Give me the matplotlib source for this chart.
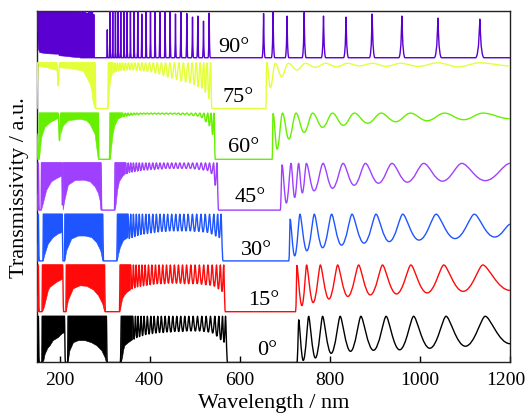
import numpy as np
import matplotlib
matplotlib.use('Agg')
import matplotlib.pyplot as plt
import matplotlib.transforms as mtransforms
from matplotlib.path import Path
from matplotlib.patches import PathPatch

nan = np.nan

angles = ['0°', '15°', '30°', '45°', '60°', '75°', '90°']
colors = ['black', '#ff0a0a', '#1f55ff', '#a040ff', '#66f000', '#e3ff3a', '#5a00d2']
tops = [0.91, 0.92, 0.92, 0.93, 0.91, 0.90, 0.92]
label_x = [662, 654, 637, 624, 609, 597, 586]
label_y = [0.25, 0.25, 0.23, 0.26, 0.25, 0.24, 0.23]

# --- 0 deg ---
a00_x = [150, 151.5, 153, 155, 161, 162, 211, 213, 218, 219, 304, 306, 335, 337, 362.6,
         573, 727, 731, 741, 753, 768, 784, 803, 823, 846, 869, 897, 925, 955, 986, 1022, 1058, 1101, 1145, 1200]
a00_y = [0.3, 0, 0.91, 0, 0, 0.91, 0.91, 0, 0, 0.91, 0.91, 0, 0, 0.91, 0.91,
         0, 0, 0.84, 0.04, 0.91, 0.09, 0.91, 0.18, 0.91, 0.22, 0.91, 0.24, 0.91, 0.25, 0.91, 0.28, 0.91, 0.32, 0.91, 0.37]
z00_pk = [368.5, 374.4, 381, 387.7, 395, 402.6, 410, 418, 426, 434.4, 442.6, 451.4, 460.3, 469, 478, 487,
          496.6, 506.3, 515.9, 525.5, 535.1, 544.8, 553.7, 561.8, 568.5]
z00_tr = [365.5, 371.5, 377.7, 384.3, 391.3, 398.8, 406.3, 414, 422, 430.2, 438.5, 447, 455.8, 464.6, 473.5,
          482.5, 491.8, 501.4, 511, 520.7, 530.3, 540, 549.2, 557.7, 565.1]
z00_tv = [.46, .49, .51, .53, .55, .56, .57, .58, .59, .59, .6, .6, .61, .61, .61, .62, .62, .62, .62, .61,
          .6, .58, .52, .45, .4]
f00_x = [161, 165, 168, 174, 179, 186, 197, 205, 211, nan, 219, 223, 231, 242, 257, 271, 283, 294, 301, 304,
         nan, 337, 340, 342, 345, 353, 362.6]
f00_lo = [0, .03, .16, .28, .33, .43, .49, .56, .59, nan, 0, .23, .39, .43, .43, .39, .33, .23, .1, 0,
          nan, 0, .1, .23, .33, .39, .45]

# --- 15 deg ---
a15_x = [150, 151.5, 153, 155, 161, 162, 207, 209, 214, 215, 300, 301.5, 333, 334.4, 358,
         568, 724, 727, 738, 748.5, 763, 779, 798, 817.4, 840, 864, 890, 917, 948, 980, 1016, 1053, 1096, 1139.6, 1200]
a15_y = [0.3, 0, 0.92, 0, 0, 0.92, 0.92, 0, 0, 0.92, 0.92, 0, 0, 0.92, 0.92,
         0, 0, 0.91, 0.12, 0.92, 0.18, 0.92, 0.25, 0.92, 0.3, 0.92, 0.33, 0.92, 0.35, 0.92, 0.37, 0.92, 0.4, 0.92, 0.42]
z15_pk = [364, 370, 376.5, 383, 390, 397.5, 405, 413, 421, 429, 437.5, 446, 455, 464, 473, 482, 491.5, 501,
          510.5, 520, 529.5, 539, 548.5, 557, 564.5]
z15_tr = [361, 367, 373.2, 379.7, 386.5, 393.7, 401.2, 409, 417, 425, 433.2, 441.7, 450.5, 459.5, 468.5, 477.5,
          486.7, 496.2, 505.7, 515.2, 524.7, 534.2, 543.7, 552.7, 560.7]
z15_tv = [.45, .47, .49, .5, .51, .52, .53, .54, .55, .55, .55, .56, .56, .56, .56, .55, .55, .55, .55, .54,
          .53, .52, .5, .45, .4]
f15_x = [162, 165, 168, 175, 179, 194, 207, nan, 215, 219.6, 230.7, 245.6, 260.4, 275.2, 286.3, 296, 300,
         nan, 334.4, 337, 340, 345, 350, 358]
f15_lo = [0, .05, .15, .41, .48, .58, .64, nan, 0, .22, .45, .51, .5, .43, .32, .15, 0,
          nan, 0, .12, .25, .33, .38, .43]

# --- 30 deg ---
a30_x = [150, 151.5, 153, 155, 163, 164, 206, 207.5, 211, 212, 296, 297.5, 327, 328.5, 352,
         563, 709, 712, 722, 733.7, 749, 765.6, 784, 804, 826, 849.3, 876, 902.6, 932, 961.9, 998, 1036, 1078,
         1121, 1166, 1200]
a30_y = [0.3, 0, 0.92, 0, 0, 0.92, 0.92, 0, 0, 0.92, 0.92, 0, 0, 0.92, 0.92,
         0, 0, 0.82, 0.1, 0.92, 0.2, 0.92, 0.26, 0.92, 0.31, 0.92, 0.35, 0.92, 0.38, 0.92, 0.41, 0.92, 0.44,
         0.92, 0.47, 0.72]
z30_pk = [358, 364, 370.5, 377, 384, 391.5, 399, 407, 415, 423, 431.5, 440, 449, 458, 467, 476, 485.5, 495,
          504.5, 514, 523.5, 533, 542.5, 551, 558.5]
z30_tr = [355, 361, 367.2, 373.7, 380.5, 387.7, 395.2, 403, 411, 419, 427.2, 435.7, 444.5, 453.5, 462.5, 471.5,
          480.7, 490.2, 499.7, 509.2, 518.7, 528.2, 537.7, 546.7, 554.7]
z30_tv = [.44, .46, .48, .5, .52, .53, .54, .55, .56, .57, .58, .58, .59, .59, .59, .59, .59, .59, .58, .58,
          .57, .56, .53, .49, .46]
f30_x = [164, 167.8, 175, 186, 197, 206, nan, 212, 216, 227, 242, 257, 271.5, 282.6, 291.5, 296,
         nan, 328.5, 331, 335, 342, 352]
f30_lo = [0, .13, .33, .46, .53, .56, nan, 0, .2, .43, .49, .49, .46, .36, .2, 0,
          nan, 0, .12, .26, .4, .46]

# --- 45 deg ---
a45_x = [150, 151.5, 153, 155, 159, 160, 205, 206.5, 208, 292, 293.7, 322, 323.3, 347,
         553, 690, 694, 703.5, 714, 722, 730.7, 739, 748, 765, 785, 806, 829.5, 854, 879, 908, 938, 972,
         1008.5, 1050, 1093, 1145, 1200]
a45_y = [0.3, 0, 0.93, 0, 0, 0.93, 0.93, 0.1, 0.93, 0.93, 0, 0, 0.93, 0.93,
         0, 0, 0.89, 0.14, 0.92, 0.25, 0.92, 0.34, 0.92, 0.38, 0.92, 0.43, 0.92, 0.49, 0.92, 0.53, 0.92, 0.55,
         0.92, 0.57, 0.92, 0.58, 0.92]
z45_pk = [352.5, 358, 364, 370.5, 377, 384, 391.5, 399, 407, 415, 423, 431.5, 440, 449, 458, 467, 476.5, 486,
          495.5, 505, 514.5, 524, 533, 542, 549.5]
z45_tr = [349.7, 355.2, 361, 367.2, 373.7, 380.5, 387.7, 395.2, 403, 411, 419, 427.2, 435.7, 444.5, 453.5,
          462.5, 471.7, 481.2, 490.7, 500.2, 509.7, 519.2, 528.5, 537.5, 545.7]
z45_tv = [.72, .74, .75, .76, .77, .78, .79, .79, .8, .8, .81, .81, .82, .82, .82, .82, .82, .82, .82, .81,
          .8, .79, .78, .72, .49]
f45_x = [160, 164, 171.5, 182.6, 193.7, 202.6, 205, nan, 208, 212, 219.6, 234.4, 253, 267.8, 278.9, 286.3,
         291.5, 292, nan, 323.3, 326, 329, 333, 340, 347]
f45_lo = [0, .13, .39, .56, .62, .66, .67, nan, 0, .2, .49, .58, .59, .56, .46, .33,
          .13, 0, nan, 0, .13, .39, .56, .66, .72]

# --- 60 deg ---
a60_x = [150, 152, 154, 155, 197, 200, 203, 286, 287.5, 311, 312.2, 340,
         545.6, 672, 674, 683, 695, 709, 725, 743, 762, 784, 806, 830, 854.4, 884, 914, 946, 979, 1016, 1054.4,
         1097, 1139.6, 1200]
a60_y = [0.5, 0, 0, 0.91, 0.91, 0.37, 0.91, 0.91, 0, 0, 0.91, 0.91,
         0, 0, 0.9, 0.2, 0.91, 0.4, 0.91, 0.53, 0.91, 0.63, 0.91, 0.67, 0.91, 0.71, 0.91, 0.74, 0.91, 0.76, 0.91,
         0.78, 0.91, 0.8]
z60_pk = [346, 352, 358.5, 365, 372, 379.5, 387, 395, 403, 411, 419.5, 428, 437, 446, 455, 464, 473.5, 483,
          492.5, 502, 511.5, 520.5, 529, 536.5, 543]
z60_tr = [343, 349, 355.2, 361.7, 368.5, 375.7, 383.2, 391, 399, 407, 415.2, 423.7, 432.5, 441.5, 450.5, 459.5,
          468.7, 478.2, 487.7, 497.2, 506.7, 516, 524.7, 532.7, 539.7]
z60_tv = [.84, .85, .86, .87, .88, .88, .89, .89, .89, .89, .89, .89, .89, .89, .89, .89, .88, .88, .87, .86,
          .85, .82, .74, .66, .49]
f60_x = [155, 156.7, 160.4, 167.8, 178.9, 193.7, 197, nan, 203, 208.5, 220, 245.6, 260, 267.8, 278.9, 282.6,
         286, nan, 312.2, 313, 316, 319, 323, 330, 340]
f60_lo = [0, .1, .43, .63, .72, .79, .8, nan, .5, .66, .76, .79, .76, .69, .49, .23,
          0, nan, 0, 0, .26, .5, .66, .79, .84]

# --- 75 deg ---
a75_x = [150, 151, 194, 197, 200, 279, 280.5, 307, 308.5, 318,
         538, 658, 660, 668, 679, 693, 708, 727, 746, 768, 791, 815, 839, 866, 895, 925, 957, 997, 1040, 1085,
         1133, 1200]
a75_y = [0, 0.9, 0.9, 0.45, 0.9, 0.9, 0, 0, 0.9, 0.9,
         0, 0, 0.91, 0.41, 0.89, 0.63, 0.89, 0.76, 0.89, 0.81, 0.89, 0.82, 0.89, 0.84, 0.89, 0.83, 0.89, 0.83,
         0.9, 0.82, 0.9, 0.84]
z75_pk = [323, 328.5, 334, 340, 346.5, 353, 360, 367.5, 375, 383, 391, 399.5, 408, 417, 426, 435.5, 445, 455,
          465, 475, 485, 494.5, 503.5, 512, 520, 527.5, 535.5]
z75_tr = [320.5, 325.7, 331.2, 337, 343.2, 349.7, 356.5, 363.7, 371.2, 379, 387, 395.2, 403.7, 412.5, 421.5,
          430.7, 440.2, 450, 460, 470, 480, 489.7, 499, 507.7, 516, 523.7, 531.5]
z75_tv = [.71, .73, .74, .75, .75, .76, .76, .76, .75, .75, .74, .73, .72, .7, .68, .65, .62, .6, .57, .54,
          .52, .5, .47, .43, .4, .32, .2]
f75_x = [151, 153, 170, 185, 194, nan, 200, 220, 240, 253, 260.4, 267.8, 271.5, 274, 277, 279,
         nan, 308.5, 310, 312, 315, 318]
f75_lo = [0.3, .83, .81, .77, .75, nan, .8, .79, .76, .73, .61, .48, .35, .15, .05, 0,
          nan, 0, .18, .45, .6, .71]

# --- 90 deg: baseline + resonance spikes ---
a90_x = [150, 150.5, 246, 247, 1200]
a90_y = [0.5, 0.92, 0.92, 0, 0]
pk90_x = [249, 253, 257, 261, 265, 269, 273, 276, 306,
          312.2, 318.1, 324.1, 330, 335.9, 343.3, 350, 357.4, 365.6, 373.7, 382.6, 392.2, 401.9, 412.2,
          422.6, 434.4, 445.6, 457.4, 469.3, 482.6, 495.2, 507, 519.6, 532.2,
          653, 674, 705, 743, 786, 836, 894, 960, 1040, 1133]
pk90_h = [0.92, 0.9, 0.92, 0.88, 0.92, 0.9, 0.92, 0.85, 0.55,
          0.92, 0.92, 0.92, 0.92, 0.92, 0.92, 0.92, 0.92, 0.92, 0.92, 0.86, 0.9, 0.92, 0.92,
          0.92, 0.92, 0.9, 0.86, 0.92, 0.87, 0.8, 0.82, 0.72, 0.88,
          0.87, 0.91, 0.82, 0.89, 0.82, 0.8, 0.86, 0.82, 0.78, 0.76]
f90_x = [150.5, 152, 155, 170, 190, 197, 198, 210, 230, 246]
f90_lo = [0.5, .18, .11, .09, .08, .08, .05, .04, .02, .01]

# peak sharpness (control arm at trough, at peak)
sharp = [(0.45, 0.2), (0.45, 0.2), (0.45, 0.22), (0.42, 0.28), (0.4, 0.35), (0.38, 0.38), (0.85, 0.03)]


def merge(ax_, ay_, pk, top, tr, tv):
    pts = list(zip(ax_, ay_)) + [(p, top) for p in pk] + list(zip(tr, tv))
    pts.sort(key=lambda p: p[0])
    return [p[0] for p in pts], [p[1] for p in pts]


def draw_curve(ax, xs, ys, off, color, klo, khi):
    verts = [(xs[0], ys[0] + off)]
    codes = [Path.MOVETO]
    for i in range(1, len(xs)):
        x0, y0, x1, y1 = xs[i - 1], ys[i - 1], xs[i], ys[i]
        dx = x1 - x0
        if y0 == y1:
            k0 = k1 = 1 / 3.
        elif y0 < y1:
            k0, k1 = klo, khi
        else:
            k0, k1 = khi, klo
        verts += [(x0 + k0 * dx, y0 + off), (x1 - k1 * dx, y1 + off), (x1, y1 + off)]
        codes += [Path.CURVE4] * 3
    ax.add_patch(PathPatch(Path(verts, codes), fill=False, ec=color, lw=1.0,
                           joinstyle='round', capstyle='round', zorder=3))


plt.rcParams['font.family'] = ['Liberation Serif', 'DejaVu Serif']

fig = plt.figure(figsize=(5.28, 4.14), dpi=100)
ax = fig.add_axes([0.0701, 0.122, 0.8958, 0.849])

curves = [
    merge(a00_x, a00_y, z00_pk, tops[0], z00_tr, z00_tv),
    merge(a15_x, a15_y, z15_pk, tops[1], z15_tr, z15_tv),
    merge(a30_x, a30_y, z30_pk, tops[2], z30_tr, z30_tv),
    merge(a45_x, a45_y, z45_pk, tops[3], z45_tr, z45_tv),
    merge(a60_x, a60_y, z60_pk, tops[4], z60_tr, z60_tv),
    merge(a75_x, a75_y, z75_pk, tops[5], z75_tr, z75_tv),
]
# 90 deg spikes: narrow resonances, base widens with wavelength
sp_x, sp_y = [], []
for p, h in zip(pk90_x, pk90_h):
    w = 0.6 + 7.0 * (p / 1000.) ** 2
    sp_x += [p - w, p, p + w]
    sp_y += [0, h, 0]
pts90 = sorted(list(zip(a90_x, a90_y)) + list(zip(sp_x, sp_y)), key=lambda p: p[0])
curves.append(([p[0] for p in pts90], [p[1] for p in pts90]))

fills = [(f00_x, f00_lo), (f15_x, f15_lo), (f30_x, f30_lo), (f45_x, f45_lo),
         (f60_x, f60_lo), (f75_x, f75_lo), (f90_x, f90_lo)]

for i in range(7):
    fx = np.array(fills[i][0], float)
    flo = np.array(fills[i][1], float)
    fhi = np.where(np.isnan(flo), nan, tops[i])
    ax.fill_between(fx, flo + i, fhi + i, color=colors[i], lw=0.4, zorder=2)
    xs, ys = curves[i]
    draw_curve(ax, xs, ys, i, colors[i], *sharp[i])
    ax.text(label_x[i], i + label_y[i], angles[i], ha='center', va='center', fontsize=16, zorder=4)

ax.set_xlim(150, 1200)
ax.set_ylim(0, 6.92)
ax.set_xticks(range(200, 1201, 200))
ax.set_yticks([])
ax.tick_params(axis='x', direction='in', length=4, width=1, labelsize=14, pad=6, top=False)
for s in ax.spines.values():
    s.set_linewidth(1.0)
    s.set_color('#222222')
ax.set_xlabel('Wavelength / nm', fontsize=16, labelpad=4)
ax.set_ylabel('Transmissivity / a.u.', fontsize=16, labelpad=6)

# keep the last tick label inside the canvas
last = ax.xaxis.get_major_ticks()[-1].label1
last.set_transform(last.get_transform() + mtransforms.ScaledTranslation(-3 / 72., 0, fig.dpi_scale_trans))

fig.savefig('out.png', dpi=100)
